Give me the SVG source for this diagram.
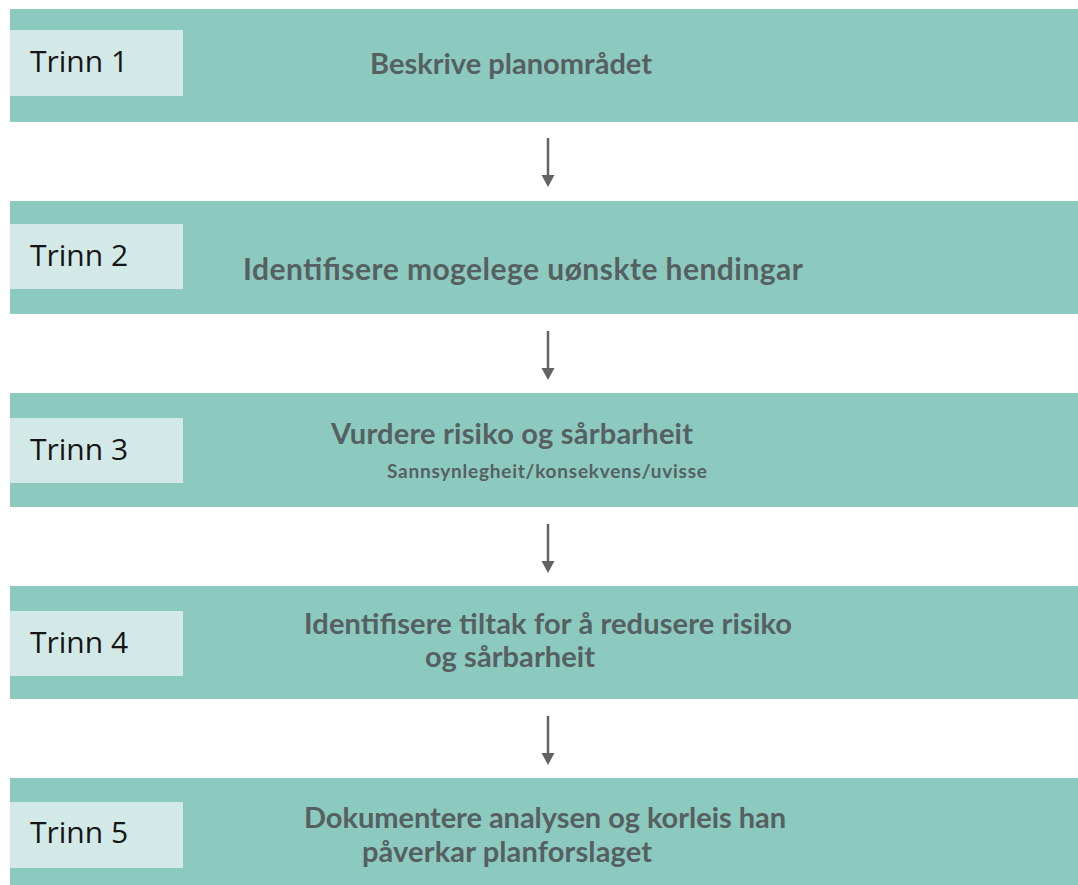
<svg xmlns="http://www.w3.org/2000/svg" width="1078" height="885" viewBox="0 0 1078 885">
<style>
.band{fill:#8ccac0}
.lbl{fill:#d3e9e7}
.trinn{font-family:"Open Sans","Liberation Sans",sans-serif;font-size:30px;fill:#151515}
.main{font-family:Lato,"Liberation Sans",sans-serif;font-weight:bold;font-size:29px;fill:#566061}
.sub{font-family:Lato,"Liberation Sans",sans-serif;font-weight:bold;font-size:19px;fill:#566061}
.arr{stroke:#636363;stroke-width:2.5;fill:none}
.head{fill:#636363}
</style>
<rect width="1078" height="885" fill="#ffffff"/>
<g id="step1">
<rect class="band" x="10" y="9" width="1068" height="113"/>
<rect class="lbl" x="10" y="30" width="173" height="66"/>
<text class="trinn" x="30" y="72">Trinn 1</text>
<text class="main" x="370" y="74" textLength="282">Beskrive planområdet</text>
</g>
<g id="step2">
<rect class="band" x="10" y="201" width="1068" height="113"/>
<rect class="lbl" x="10" y="224" width="173" height="65"/>
<text class="trinn" x="30" y="266">Trinn 2</text>
<text class="main" x="243" y="280" style="font-size:30px" textLength="560">Identifisere mogelege uønskte hendingar</text>
</g>
<g id="step3">
<rect class="band" x="10" y="393" width="1068" height="114"/>
<rect class="lbl" x="10" y="418" width="173" height="65"/>
<text class="trinn" x="30" y="460">Trinn 3</text>
<text class="main" x="331" y="444" textLength="362">Vurdere risiko og sårbarheit</text>
<text class="sub" x="387" y="478" textLength="320">Sannsynlegheit/konsekvens/uvisse</text>
</g>
<g id="step4">
<rect class="band" x="10" y="586" width="1068" height="113"/>
<rect class="lbl" x="10" y="611" width="173" height="65"/>
<text class="trinn" x="30" y="653">Trinn 4</text>
<text class="main" x="304" y="634" textLength="488">Identifisere tiltak for å redusere risiko</text>
<text class="main" x="425" y="667" textLength="170">og sårbarheit</text>
</g>
<g id="step5">
<rect class="band" x="10" y="778" width="1068" height="107"/>
<rect class="lbl" x="10" y="802" width="173" height="66"/>
<text class="trinn" x="30" y="843">Trinn 5</text>
<text class="main" x="304" y="828" textLength="482">Dokumentere analysen og korleis han</text>
<text class="main" x="362" y="862" textLength="290">påverkar planforslaget</text>
</g>
<g id="connectors">
<line class="arr" x1="548" y1="138" x2="548" y2="176"/>
<path class="head" d="M541.5,175 L554.5,175 L548,187 Z"/>
<line class="arr" x1="548" y1="331" x2="548" y2="369"/>
<path class="head" d="M541.5,368 L554.5,368 L548,380 Z"/>
<line class="arr" x1="548" y1="524" x2="548" y2="562"/>
<path class="head" d="M541.5,561 L554.5,561 L548,573 Z"/>
<line class="arr" x1="548" y1="716" x2="548" y2="754"/>
<path class="head" d="M541.5,753 L554.5,753 L548,765 Z"/>
</g>
</svg>
